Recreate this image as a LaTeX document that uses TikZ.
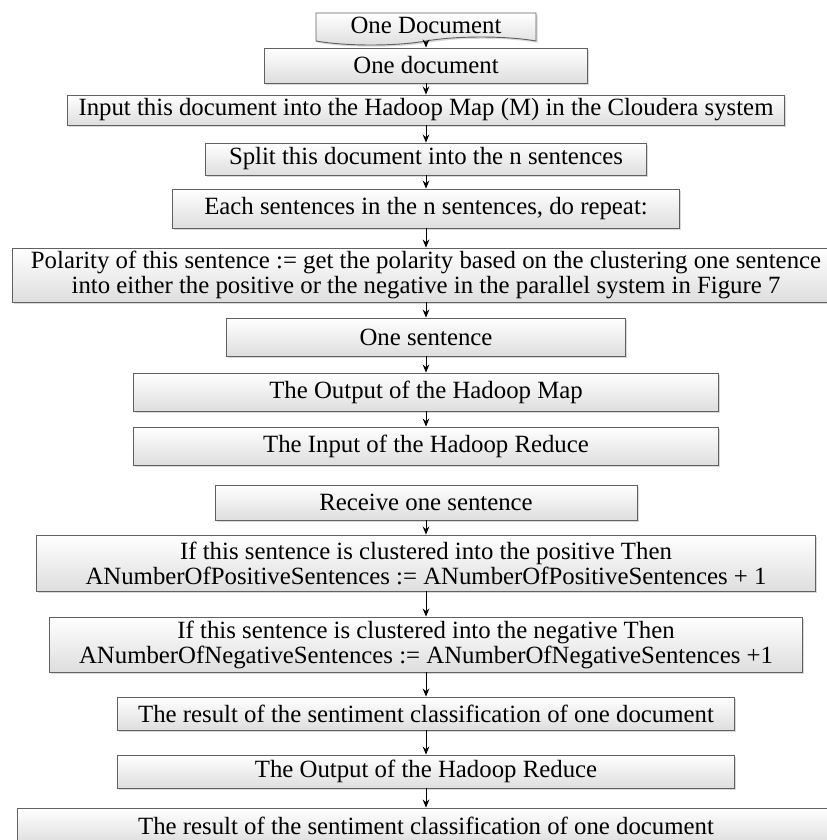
\documentclass[tikz,border=0pt]{standalone}
\usepackage{fontspec}
\setmainfont{Liberation Serif}
\usetikzlibrary{shapes.symbols,shadows,arrows.meta}

\tikzset{
  box/.style={draw=black!62, line width=0.7pt, top color=white, bottom color=black!13,
    inner sep=0pt, align=center,
    drop shadow={shadow xshift=1.3pt, shadow yshift=-1.3pt, opacity=0.3}},
  flow/.style={-{Stealth[length=6pt,width=5pt]}, line width=0.7pt}
}

\begin{document}
\begin{tikzpicture}[x=0.75pt,y=0.75pt,yscale=-1,xscale=1,font=\fontsize{18.6}{18.75}\selectfont]
    \useasboundingbox (0,0) rectangle (827,840);

    % Document Node
    \node [box, tape, tape bend top=none, tape bend bottom=in and out, tape bend height=6pt,
      minimum width=165pt, minimum height=24pt] (doc) at (426,25) {One Document};
    % Text Node
    \node [box, minimum width=242.25pt, minimum height=26.25pt] (onedoc) at (426,65.5) {One document};
    % Text Node
    \node [box, minimum width=537.75pt, minimum height=22.5pt] (mapin) at (426,110) {Input this document into the Hadoop Map (M) in the Cloudera system};
    % Text Node
    \node [box, minimum width=330.75pt, minimum height=24pt] (split) at (426,159) {Split this document into the n sentences};
    % Text Node
    \node [box, minimum width=380.25pt, minimum height=29.25pt] (repeat) at (426,208.5) {Each sentences in the n sentences, do repeat:};
    % Text Node
    \node [box, minimum width=621pt, minimum height=40.5pt] (polarity) at (426,275) {Polarity of this sentence := get the polarity based on the clustering one sentence\\into either the positive or the negative in the parallel system in Figure 7};
    % Text Node
    \node [box, minimum width=299.25pt, minimum height=28.5pt] (onesent) at (426,337) {One sentence};
    % Text Node
    \node [box, minimum width=438.75pt, minimum height=28.5pt] (mapout) at (426,392) {The Output of the Hadoop Map};
    % Text Node
    \node [box, minimum width=438.75pt, minimum height=28.5pt] (redin) at (426,446) {The Input of the Hadoop Reduce};
    % Text Node
    \node [box, minimum width=316.5pt, minimum height=26.25pt] (receive) at (426,502.5) {Receive one sentence};
    % Text Node
    \node [box, minimum width=584.25pt, minimum height=42pt] (pos) at (426,563) {If this sentence is clustered into the positive Then\\ANumberOfPositiveSentences := ANumberOfPositiveSentences + 1};
    % Text Node
    \node [box, minimum width=564.75pt, minimum height=41.25pt] (neg) at (426,644.5) {If this sentence is clustered into the negative Then\\ANumberOfNegativeSentences := ANumberOfNegativeSentences +1};
    % Text Node
    \node [box, minimum width=462.75pt, minimum height=24.75pt] (result) at (426,713.5) {The result of the sentiment classification of one document};
    % Text Node
    \node [box, minimum width=462.75pt, minimum height=24.75pt] (redout) at (426,771.5) {The Output of the Hadoop Reduce};
    % Text Node
    \node [box, minimum width=613.5pt, minimum height=27pt] (final) at (426,826) {The result of the sentiment classification of one document};

    %Straight Lines
    \draw [flow] (doc) -- (onedoc);
    \draw [flow] (onedoc) -- (mapin);
    \draw [flow] (mapin) -- (split);
    \draw [flow] (split) -- (repeat);
    \draw [flow] (repeat) -- (polarity);
    \draw [flow] (polarity) -- (onesent);
    \draw [flow] (onesent) -- (mapout);
    \draw [flow] (mapout) -- (redin);
    %Straight Lines
    \draw [flow] (receive) -- (pos);
    \draw [flow] (pos) -- (neg);
    \draw [flow] (neg) -- (result);
    \draw [flow] (result) -- (redout);
    \draw [flow] (redout) -- (final);

\end{tikzpicture}
\end{document}
